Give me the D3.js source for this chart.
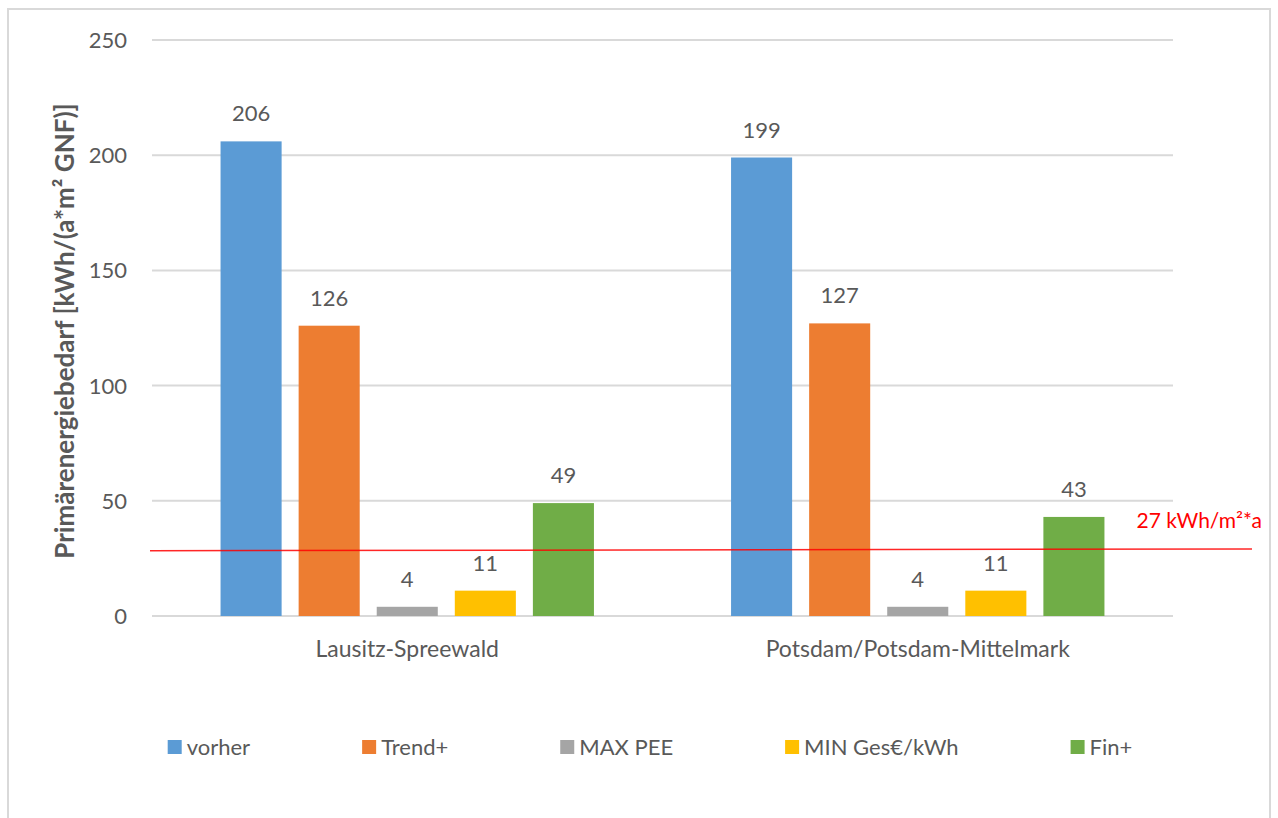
<!DOCTYPE html>
<html>
<head>
<meta charset="utf-8">
<script src="https://cdn.jsdelivr.net/npm/d3@7"></script>
<style>
  body { margin: 0; background: #fff; }
  text { font-family: Lato, "Open Sans", sans-serif; fill: #595959; }
</style>
</head>
<body>
<svg id="chart" width="1278" height="818"></svg>
<script>
// chart data
var regions = ["Lausitz-Spreewald", "Potsdam/Potsdam-Mittelmark"];
var series = ["vorher", "Trend+", "MAX PEE", "MIN Ges€/kWh", "Fin+"];
var vorher = [206, 199];
var trend = [126, 127];
var maxPee = [4, 4];
var minGes = [11, 11];
var fin = [49, 43];
var yTicks = [0, 50, 100, 150, 200, 250];
var refLabel = "27 kWh/m²*a";
var refLine = [28.3, 29.1]; // drawn line, left end / right end

var colors = ["#5b9bd5", "#ed7d31", "#a5a5a5", "#ffc000", "#70ad47"];
var seriesValues = [vorher, trend, maxPee, minGes, fin];

var svg = d3.select("#chart");

// outer frame
svg.append("rect")
    .attr("x", 8).attr("y", 9)
    .attr("width", 1262).attr("height", 830)
    .attr("fill", "none")
    .attr("stroke", "#d9d9d9")
    .attr("stroke-width", 2);

var plotLeft = 152, plotRight = 1173, plotTop = 40, plotBottom = 616;

var x0 = d3.scaleBand().domain(regions).range([plotLeft, plotRight]);
var x1 = d3.scaleBand().domain(series)
    .range([0, x0.bandwidth()])
    .paddingInner(0.218)
    .paddingOuter(0.878);
var y = d3.scaleLinear().domain([0, 250]).range([plotBottom, plotTop]);

// gridlines
svg.append("g").selectAll("line")
    .data(yTicks).join("line")
    .attr("x1", plotLeft).attr("x2", plotRight)
    .attr("y1", d => y(d)).attr("y2", d => y(d))
    .attr("stroke", "#d9d9d9")
    .attr("stroke-width", 2);

// y tick labels
svg.append("g").selectAll("text")
    .data(yTicks).join("text")
    .attr("x", 127)
    .attr("y", d => y(d))
    .attr("dy", "0.36em")
    .attr("text-anchor", "end")
    .style("font-size", "22px")
    .text(d => d);

// bars
var rows = [];
series.forEach(function(s, si) {
  regions.forEach(function(r, ri) {
    rows.push({ region: r, series: s, value: seriesValues[si][ri], color: colors[si] });
  });
});

svg.append("g").selectAll("rect")
    .data(rows).join("rect")
    .attr("x", d => x0(d.region) + x1(d.series))
    .attr("y", d => y(d.value))
    .attr("width", x1.bandwidth())
    .attr("height", d => y(0) - y(d.value))
    .attr("fill", d => d.color);

// data labels
svg.append("g").selectAll("text")
    .data(rows).join("text")
    .attr("x", d => x0(d.region) + x1(d.series) + x1.bandwidth() / 2)
    .attr("y", d => y(d.value) - 20)
    .attr("text-anchor", "middle")
    .style("font-size", "22px")
    .text(d => d.value);

// category labels
svg.append("g").selectAll("text")
    .data(regions).join("text")
    .attr("x", d => x0(d) + x0.bandwidth() / 2)
    .attr("y", 657)
    .attr("text-anchor", "middle")
    .style("font-size", "23px")
    .text(d => d);

// y axis title
svg.append("text")
    .attr("transform", "translate(74,331) rotate(-90)")
    .attr("text-anchor", "middle")
    .style("font-size", "26px")
    .style("font-weight", "bold")
    .text("Primärenergiebedarf [kWh/(a*m² GNF)]");

// reference line (hand drawn, slightly tilted)
svg.append("line")
    .attr("x1", plotLeft - 2).attr("x2", plotRight + 79)
    .attr("y1", y(refLine[0])).attr("y2", y(refLine[1]))
    .attr("stroke", "#ff0000")
    .attr("stroke-opacity", 0.85)
    .attr("stroke-width", 1.5);

svg.append("text")
    .attr("x", 1262)
    .attr("y", 528)
    .attr("text-anchor", "end")
    .style("font-size", "21px")
    .style("fill", "#ff0000")
    .text(refLabel);

// legend
var gap = 112;
var legend = svg.append("g");
var items = legend.selectAll("g")
    .data(series).join("g");
items.append("rect")
    .attr("y", 740)
    .attr("width", 14).attr("height", 14)
    .attr("fill", (d, i) => colors[i]);
items.append("text")
    .attr("x", 19)
    .attr("y", 755)
    .style("font-size", "22px")
    .text(d => d);

var pos = 0, offsets = [];
items.each(function() {
  offsets.push(pos);
  pos += 19 + this.querySelector("text").getComputedTextLength() + gap;
});
var legendWidth = pos - gap;
var legendStart = 650 - legendWidth / 2;
items.attr("transform", (d, i) => "translate(" + (legendStart + offsets[i]) + ",0)");
</script>
</body>
</html>
